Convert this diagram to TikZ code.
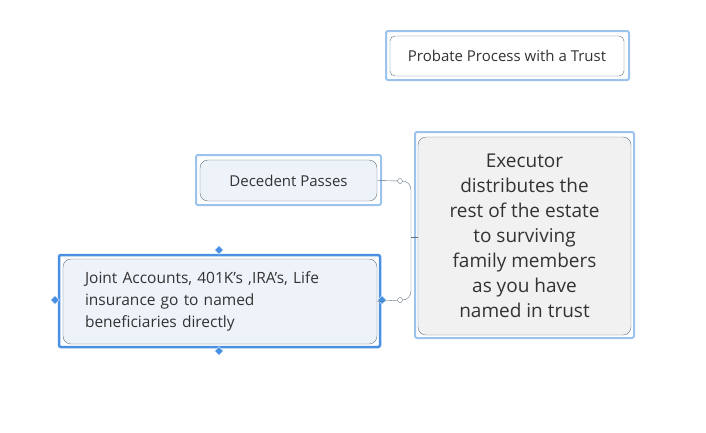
\documentclass[tikz,border=0pt]{standalone}
\usepackage{fontspec}
\setmainfont{Open Sans}
\usetikzlibrary{positioning,shapes.geometric}
\definecolor{frameblue}{HTML}{9CC3EC}
\definecolor{selblue}{HTML}{4A90E2}
\definecolor{topicfill}{HTML}{EEF3FA}
\definecolor{rootfill}{HTML}{F1F1F1}
\definecolor{linegray}{HTML}{5E7080}
\tikzset{
  frame/.style={
    rectangle,
    rounded corners=2pt,
    draw=frameblue,line width=2pt,
    fill=white},
  topic/.style={
    rectangle,
    rounded corners=8pt,
    draw=linegray,thin,
    fill=topicfill,
    text=black!80,
    font=\fontsize{15}{18}\selectfont},
  line/.style = {draw=linegray,thin},
  knob/.style={circle,draw=linegray,fill=white,inner sep=0pt,minimum size=5pt},
  handle/.style={diamond,fill=selblue,draw=white,inner sep=0pt,minimum size=9pt},
}
\begin{document}
\begin{tikzpicture}[x=1pt,y=-1pt]
  \useasboundingbox (0,0) rectangle (706,432);
  % title
  \draw[frame] (386,31) rectangle (629,80);
  \node[topic,minimum width=234pt,minimum height=40pt,rounded corners=5pt,fill=white](title) at (507,56) {Probate Process with a Trust};
  % root
  \draw[frame] (415,132) rectangle (634,338);
  \node[topic,fill=rootfill,minimum width=213pt,minimum height=198pt,align=center,font=\fontsize{19}{25}\selectfont](executor) at (524.5,236) {Executor\\distributes the\\rest of the estate\\to surviving\\family members\\as you have\\named in trust};
  % left topics
  \draw[frame] (196,155) rectangle (381,205);
  \node[topic,minimum width=177pt,minimum height=41pt](passes) at (288.5,180.5) {Decedent Passes};
  \draw[frame,draw=selblue,line width=2.5pt] (59,255) rectangle (380,347);
  \node[topic,minimum width=314pt,minimum height=85pt,text width=270pt,align=left,font=\fontsize{15.5}{22}\selectfont](joint) at (220,301.5) {Joint Accounts, 401K's ,IRA's, Life\\insurance go to named\\beneficiaries directly};
  \node[handle](h1) at (219,250) {};
  \node[handle](h2) at (219,351) {};
  \node[handle](h3) at (55,300) {};
  \node[handle](h4) at (382,300) {};
  % connectors
  \coordinate (trunk) at (411,237);
  \node[knob](k1) at (400,181) {};
  \node[knob](k2) at (400,300) {};
  \draw[line] (passes.east) -- (k1);
  \draw[line] (joint.east) -- (k2);
  \draw[line] (k1.east) to[out=0,in=90] (trunk |- 190,190) -- (trunk |- 291,291) to[out=-90,in=0] (k2.east);
  \draw[line] (trunk) -- (executor.west |- trunk);
\end{tikzpicture}
\end{document}
